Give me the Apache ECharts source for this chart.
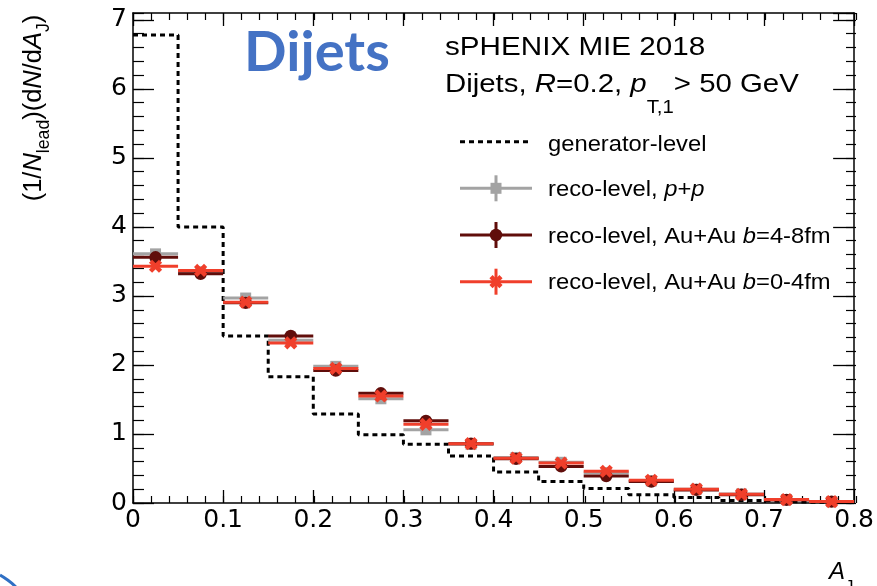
<!DOCTYPE html>
<html><head><meta charset="utf-8">
<script src="https://cdn.jsdelivr.net/npm/echarts@6/dist/echarts.min.js"></script>
<style>html,body{margin:0;padding:0;background:#fff}#c{width:877px;height:586px}</style>
</head><body><div id="c"></div>
<script>
// ---- data ----
const binCenters = [0.025,0.075,0.125,0.175,0.225,0.275,0.325,0.375,0.425,0.475,0.525,0.575,0.625,0.675,0.725,0.775];
const binHalfWidth = 0.025;
const genEdges = [0,0.05,0.1,0.15,0.2,0.25,0.3,0.35,0.4,0.45,0.5,0.55,0.6,0.65,0.7,0.75,0.8];
const genValues = [6.78,4.0,2.42,1.83,1.29,0.99,0.85,0.68,0.45,0.31,0.21,0.12,0.08,0.035,0.012,0.005];
const ppValues = [3.61,3.35,2.97,2.36,1.98,1.51,1.06,0.85,0.66,0.59,0.44,0.32,0.20,0.13,0.05,0.02];
const ppErr    = [0.04,0.04,0.035,0.03,0.03,0.025,0.025,0.02,0.02,0.02,0.015,0.015,0.012,0.01,0.008,0.005];
const midValues = [3.56,3.32,2.90,2.42,1.92,1.59,1.19,0.86,0.64,0.53,0.39,0.31,0.19,0.12,0.045,0.02];
const midErr    = [0.04,0.04,0.035,0.03,0.03,0.025,0.025,0.02,0.02,0.02,0.015,0.015,0.012,0.01,0.008,0.005];
const centValues = [3.43,3.37,2.91,2.32,1.95,1.55,1.14,0.86,0.65,0.58,0.46,0.33,0.20,0.125,0.05,0.02];
const centErr    = [0.04,0.04,0.035,0.03,0.03,0.025,0.025,0.02,0.02,0.02,0.015,0.015,0.012,0.01,0.008,0.005];
const xTicks = [0,0.1,0.2,0.3,0.4,0.5,0.6,0.7,0.8];
const yTicks = [0,1,2,3,4,5,6,7];

const GRAY = '#a3a3a3', DARK = '#600d0a', RED = '#f03f2b';

function marker(kind, c, color) {
  if (kind === 'square') return {type:'rect', shape:{x:c[0]-5.5,y:c[1]-5.5,width:11,height:11}, style:{fill:color}};
  if (kind === 'circle') return {type:'circle', shape:{cx:c[0],cy:c[1],r:6.2}, style:{fill:color}};
  return {type:'group', children:[
    {type:'line', shape:{x1:c[0]-5,y1:c[1]-5,x2:c[0]+5,y2:c[1]+5}, style:{stroke:color,lineWidth:4.5}},
    {type:'line', shape:{x1:c[0]-5,y1:c[1]+5,x2:c[0]+5,y2:c[1]-5}, style:{stroke:color,lineWidth:4.5}}
  ]};
}
function reco(name, vals, errs, color, kind, z) {
  return {
    type:'custom', name, xAxisIndex:0, yAxisIndex:0, z,
    data: binCenters.map((x,i)=>[x, vals[i], errs[i]]),
    encode:{x:0,y:1},
    renderItem:(params, api) => {
      const x = api.value(0), y = api.value(1), e = api.value(2);
      const l = api.coord([x-binHalfWidth, y]), r = api.coord([x+binHalfWidth, y]);
      const t = api.coord([x, y+e]), b = api.coord([x, y-e]), c = api.coord([x, y]);
      return {type:'group', children:[
        {type:'line', shape:{x1:l[0],y1:l[1],x2:r[0],y2:r[1]}, style:{stroke:color,lineWidth:3}},
        {type:'line', shape:{x1:t[0],y1:t[1],x2:b[0],y2:b[1]}, style:{stroke:color,lineWidth:3}},
        marker(kind, c, color)
      ]};
    }
  };
}

const chart = echarts.init(document.getElementById('c'), null, {renderer:'canvas'});
const grid = {left:133, right:21, top:13, bottom:83};
const tickCol = '#000';
const fmtX = v => { const k = xTicks.find(t => Math.abs(t-v) < 1e-6); return k === undefined ? '' : (k === 0 ? '0' : k.toFixed(1)); };
const fmtY = v => { const k = yTicks.find(t => Math.abs(t-v) < 1e-6); return k === undefined ? '' : String(k); };
const lab = {fontFamily:'DejaVu Sans', fontSize:25, color:'#000'};

const F = 'Liberation Sans';
const legendRows = [141.7, 188.3, 235, 281.7];
function rs(size, lh, italic) { return {fontFamily:F, fontSize:size, fontStyle: italic ? 'italic' : 'normal', lineHeight:lh, height:lh, verticalAlign:'top', fill:'#000'}; }
function tickAxis(gridIndex, position, interval, length, max, line) {
  return {type:'value', gridIndex, position, min:0, max, interval,
    axisLine:{show:line, onZero:false, lineStyle:{color:tickCol,width:1.5}},
    axisTick:{inside:true, length, lineStyle:{color:tickCol, width: length > 12 ? 1.3 : 1.2}},
    splitLine:{show:false}, axisLabel:{show:false}};
}

const xMain = tickAxis(0,'bottom',0.1,13,0.8,true);
xMain.axisLabel = Object.assign({show:true, margin:5, formatter:fmtX}, lab);
const yMain = tickAxis(0,'left',1,21,7.1,true);
yMain.axisLabel = Object.assign({show:true, margin:6, formatter:fmtY, showMaxLabel:false}, lab);

chart.setOption({
  animation:false,
  grid:[Object.assign({},grid), Object.assign({},grid)],
  xAxis:[
    xMain,
    tickAxis(0,'top',0.1,13,0.8,true),
    tickAxis(1,'bottom',0.02,7,0.8,false),
    tickAxis(1,'top',0.02,7,0.8,false)
  ],
  yAxis:[
    yMain,
    tickAxis(0,'right',1,21,7.1,true),
    tickAxis(1,'left',0.2,11,7.1,false),
    tickAxis(1,'right',0.2,10,7.1,false)
  ],
  series:[
    {type:'line', name:'generator-level', xAxisIndex:0, yAxisIndex:0, step:'end', symbol:'none', z:1,
     data: genEdges.map((x,i)=>[x, genValues[Math.min(i, genValues.length-1)]]),
     lineStyle:{color:'#000', width:3, type:[5,4]}},
    reco('reco-level, p+p', ppValues, ppErr, GRAY, 'square', 2),
    reco('reco-level, Au+Au b=4-8fm', midValues, midErr, DARK, 'circle', 3),
    reco('reco-level, Au+Au b=0-4fm', centValues, centErr, RED, 'cross', 4)
  ],
  graphic:[
    {type:'text', x:244, y:23, scaleX:1.02, style:{text:'Dijets', font:'bold 55px Lato', fill:'#4472C4', verticalAlign:'top', lineHeight:60}},
    {type:'text', x:445, y:33, scaleX:1.14, style:{text:'sPHENIX MIE 2018', font:'26px "'+F+'"', fill:'#000', verticalAlign:'top', lineHeight:30}},
    {type:'text', x:445, y:69.6, scaleX:1.13, style:{
      text:'{n|Dijets, }{i|R}{n|=0.2, }{i|p}{s|T,1}{n|> 50 GeV}', verticalAlign:'top',
      rich:{ n:rs(26,30,false), i:rs(26,30,true), s:rs(18,76,false) }}},
    // legend
    {type:'line', shape:{x1:460,y1:legendRows[0],x2:532,y2:legendRows[0]}, style:{stroke:'#000',lineWidth:3,lineDash:[5,4]}},
    {type:'line', shape:{x1:460,y1:legendRows[1],x2:532,y2:legendRows[1]}, style:{stroke:GRAY,lineWidth:3}},
    {type:'line', shape:{x1:496,y1:legendRows[1]-13,x2:496,y2:legendRows[1]+13}, style:{stroke:GRAY,lineWidth:3}},
    {type:'rect', shape:{x:490.5,y:legendRows[1]-5.5,width:11,height:11}, style:{fill:GRAY}},
    {type:'line', shape:{x1:460,y1:legendRows[2],x2:532,y2:legendRows[2]}, style:{stroke:DARK,lineWidth:3}},
    {type:'line', shape:{x1:496,y1:legendRows[2]-13,x2:496,y2:legendRows[2]+13}, style:{stroke:DARK,lineWidth:3}},
    {type:'circle', shape:{cx:496,cy:legendRows[2],r:6.2}, style:{fill:DARK}},
    {type:'line', shape:{x1:460,y1:legendRows[3],x2:532,y2:legendRows[3]}, style:{stroke:RED,lineWidth:3}},
    {type:'line', shape:{x1:496,y1:legendRows[3]-13,x2:496,y2:legendRows[3]+13}, style:{stroke:RED,lineWidth:3}},
    {type:'line', shape:{x1:491,y1:legendRows[3]-5,x2:501,y2:legendRows[3]+5}, style:{stroke:RED,lineWidth:4.5}},
    {type:'line', shape:{x1:491,y1:legendRows[3]+5,x2:501,y2:legendRows[3]-5}, style:{stroke:RED,lineWidth:4.5}},
    {type:'text', x:548, y:legendRows[0]+3.5, scaleX:1.08, style:{text:'generator-level', font:'22px "'+F+'"', fill:'#000', verticalAlign:'middle'}},
    {type:'text', x:548, y:legendRows[1]+1.2, scaleX:1.08, style:{text:'{n|reco-level, }{i|p}{n|+}{i|p}', verticalAlign:'middle',
      rich:{n:{fontFamily:F,fontSize:22,fill:'#000'}, i:{fontFamily:F,fontSize:22,fontStyle:'italic',fill:'#000'}}}},
    {type:'text', x:548, y:legendRows[2]+1.5, scaleX:1.08, style:{text:'{n|reco-level, Au+Au }{i|b}{n|=4-8fm}', verticalAlign:'middle',
      rich:{n:{fontFamily:F,fontSize:22,fill:'#000'}, i:{fontFamily:F,fontSize:22,fontStyle:'italic',fill:'#000'}}}},
    {type:'text', x:548, y:legendRows[3]+1.5, scaleX:1.08, style:{text:'{n|reco-level, Au+Au }{i|b}{n|=0-4fm}', verticalAlign:'middle',
      rich:{n:{fontFamily:F,fontSize:22,fill:'#000'}, i:{fontFamily:F,fontSize:22,fontStyle:'italic',fill:'#000'}}}},
    // y-axis title
    {type:'text', x:44, y:108, rotation:Math.PI/2, scaleX:0.98, style:{
      text:'{n|(1/}{i|N}{s|lead}{n|)(d}{i|N}{n|/d}{i|A}{s|J}{n|)}', align:'center', verticalAlign:'middle',
      rich:{ n:rs(26,30,false), i:rs(26,30,true), s:rs(18,50,false) }}},
    // x-axis title
    {type:'text', x:829, y:558.5, style:{
      text:'{i|A}{s|J}', verticalAlign:'top',
      rich:{ i:rs(24,28,true), s:rs(17,57,false) }}},
    // decorative blue arc at the bottom-left corner
    {type:'polyline', shape:{points:[[0,575],[4,577.5],[8,580.3],[12,583.4],[16,587]]}, style:{stroke:'#2f6fc4', lineWidth:3, fill:null}}
  ]
});
</script>
</body></html>
